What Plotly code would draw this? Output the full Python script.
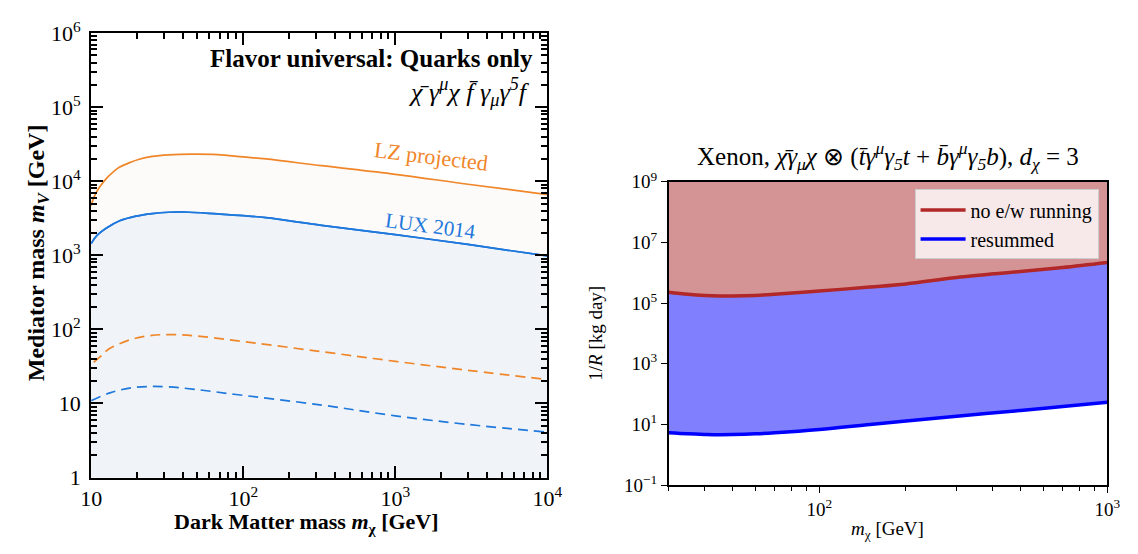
import plotly.graph_objects as go

# ---------------- Left panel data ----------------
mx_left = [10, 10.4, 10.9, 11.5, 12.7, 14.0, 15.4, 17.9, 20.7, 25.2, 32.4, 45.8, 67.7, 100, 141, 328, 1000, 3000, 10000]
lz_solid = [4700, 5970, 7270, 8600, 11100, 13400, 15500, 17800, 19800, 21600, 22700, 23200, 22900, 21300, 20000, 16200, 12400, 9100, 6600]
mx_lux = [10, 10.9, 12.7, 15.4, 19.7, 25.2, 32.4, 41.4, 67.7, 100, 141, 328, 1000, 3000, 10000]
lux_solid = [1440, 1840, 2350, 2920, 3380, 3660, 3810, 3840, 3620, 3430, 3220, 2540, 1900, 1400, 980]
mx_dash = [10.4, 11.8, 13, 17.9, 24, 32.4, 48, 87, 328, 1000, 3000, 10000]
lz_dash = [36, 45, 54, 72, 82, 85, 82, 71, 50, 37, 28, 21]
mx_dash_b = [10, 13.3, 17.9, 24, 32.4, 48, 87, 328, 1000, 3000, 10000]
lux_dash = [10.9, 13.9, 16.1, 16.9, 16.7, 15.5, 13.3, 9.5, 6.8, 5.2, 4.1]

# ---------------- Right panel data ----------------
mx_right = [30, 35, 40, 45, 50, 60, 70, 100, 150, 200, 300, 500, 700, 1000]
no_ew = [2.3e5, 1.95e5, 1.78e5, 1.72e5, 1.72e5, 1.8e5, 1.95e5, 2.5e5, 3.4e5, 4.3e5, 7.0e5, 1.1e6, 1.5e6, 2.2e6]
resummed = [5.3, 4.9, 4.7, 4.6, 4.65, 4.9, 5.3, 6.8, 10.0, 13.0, 18.6, 29.0, 39.0, 54.0]
right_ymax = 1e9

left_xticks = [10, 100, 1000, 10000]
left_xtext = ["10", "10<sup>2</sup>", "10<sup>3</sup>", "10<sup>4</sup>"]
left_yticks = [1, 10, 100, 1e3, 1e4, 1e5, 1e6]
left_ytext = ["1", "10", "10<sup>2</sup>", "10<sup>3</sup>", "10<sup>4</sup>", "10<sup>5</sup>", "10<sup>6</sup>"]
right_xticks = [100, 1000]
right_xtext = ["10<sup>2</sup>", "10<sup>3</sup>"]
right_yticks = [0.1, 10, 1e3, 1e5, 1e7, 1e9]
right_ytext = ["10<sup>−1</sup>", "10<sup>1</sup>", "10<sup>3</sup>", "10<sup>5</sup>", "10<sup>7</sup>", "10<sup>9</sup>"]

ORANGE = "#F0862A"
BLUE = "#1F78DC"
RED = "#B22727"
PURE_BLUE = "#0000FF"
FONT = "Liberation Serif"

W, H = 1138, 554
def px(x): return x / W
def py(y): return 1 - y / H

fig = go.Figure()

# Left fills
fig.add_trace(go.Scatter(x=mx_lux, y=lux_solid, mode="lines", line=dict(color=BLUE, width=1.7, shape="spline"),
                         fill="tozeroy", fillcolor="#F0F4F8", showlegend=False, xaxis="x", yaxis="y"))
fig.add_trace(go.Scatter(x=mx_left, y=lz_solid, mode="lines", line=dict(color=ORANGE, width=1.7, shape="spline"),
                         fill="tonexty", fillcolor="#FDFBF9", showlegend=False, xaxis="x", yaxis="y"))
fig.add_trace(go.Scatter(x=mx_dash, y=lz_dash, mode="lines", line=dict(color=ORANGE, width=1.7, dash="10px,6px", shape="spline"),
                         showlegend=False, xaxis="x", yaxis="y"))
fig.add_trace(go.Scatter(x=mx_dash_b, y=lux_dash, mode="lines", line=dict(color=BLUE, width=1.7, dash="10px,6px", shape="spline"),
                         showlegend=False, xaxis="x", yaxis="y"))
fig.add_trace(go.Scatter(x=mx_lux, y=lux_solid, mode="lines", line=dict(color=BLUE, width=1.7, shape="spline"),
                         showlegend=False, xaxis="x", yaxis="y"))

# Right fills
fig.add_trace(go.Scatter(x=mx_right, y=resummed, mode="lines", line=dict(width=0, shape="spline"),
                         showlegend=False, xaxis="x2", yaxis="y2"))
fig.add_trace(go.Scatter(x=mx_right, y=no_ew, mode="lines", line=dict(width=0, shape="spline"),
                         fill="tonexty", fillcolor="#8080FF", showlegend=False, xaxis="x2", yaxis="y2"))
fig.add_trace(go.Scatter(x=mx_right, y=[right_ymax] * len(mx_right), mode="lines", line=dict(width=0),
                         fill="tonexty", fillcolor="#D49394", showlegend=False, xaxis="x2", yaxis="y2"))
fig.add_trace(go.Scatter(x=mx_right, y=no_ew, mode="lines", name="no e/w running",
                         line=dict(color=RED, width=3.5, shape="spline"), xaxis="x2", yaxis="y2"))
fig.add_trace(go.Scatter(x=mx_right, y=resummed, mode="lines", name="resummed",
                         line=dict(color=PURE_BLUE, width=3.5, shape="spline"), xaxis="x2", yaxis="y2"))

common = dict(showline=True, linecolor="black", showgrid=False, zeroline=False, type="log", layer="above traces")

fig.update_layout(
    width=W, height=H, margin=dict(l=0, r=0, t=0, b=0),
    paper_bgcolor="white", plot_bgcolor="white",
    font=dict(family=FONT, color="black"),
    xaxis=dict(**common, domain=[px(82), px(549)], range=[1, 4], linewidth=2,
               tickmode="array", tickvals=left_xticks, ticktext=left_xtext,
               ticks="inside", ticklen=12, tickwidth=2, tickcolor="black", mirror="allticks",
               minor=dict(ticks="inside", ticklen=6, tickwidth=1.5, dtick="D1", tickcolor="black"),
               ticklabelstandoff=0,
               tickfont=dict(size=22, family=FONT), anchor="y"),
    yaxis=dict(**common, domain=[py(487), py(18)], range=[0, 6], linewidth=2,
               tickmode="array", tickvals=left_yticks, ticktext=left_ytext,
               ticks="inside", ticklen=12, tickwidth=2, tickcolor="black", mirror="allticks",
               minor=dict(ticks="inside", ticklen=6, tickwidth=1.5, dtick="D1", tickcolor="black"),
               ticklabelstandoff=4,
               tickfont=dict(size=22, family=FONT), anchor="x"),
    xaxis2=dict(**common, domain=[px(673), px(1122)], range=[1.4771, 3], linewidth=1.5, mirror=True,
                tickmode="array", tickvals=right_xticks, ticktext=right_xtext,
                ticks="outside", ticklen=6, tickwidth=1.2, tickcolor="black",
                minor=dict(ticks="outside", ticklen=4, tickwidth=1, dtick="D1", tickcolor="black"),
                tickfont=dict(size=19, family=FONT), anchor="y2"),
    yaxis2=dict(**common, domain=[py(495), py(175)], range=[-1, 9], linewidth=1.5, mirror=True,
                tickmode="array", tickvals=right_yticks, ticktext=right_ytext,
                ticks="outside", ticklen=6, tickwidth=1.2, tickcolor="black",
                tickfont=dict(size=19, family=FONT), anchor="x2"),
    legend=dict(x=px(1113), y=py(183), xanchor="right", yanchor="top", traceorder="normal",
                bgcolor="rgba(255,255,255,0.8)", bordercolor="#CCCCCC", borderwidth=1,
                font=dict(size=20, family=FONT), itemwidth=45),
)

ann = [
    dict(x=px(302), y=py(535), text="<b>Dark Matter mass <i>m</i><sub>χ</sub> [GeV]</b>", size=22),
    dict(x=px(28), y=py(250), text="<b>Mediator mass <i>m<sub>V</sub></i> [GeV]</b>", size=24, textangle=-90),
    dict(x=px(536), y=py(45), text="<b>Flavor universal: Quarks only</b>", size=25, xanchor="right"),
    dict(x=px(533), y=py(80), text="<i>χ̄ γ<sup>μ</sup>χ f̄ γ<sub>μ</sub>γ<sup>5</sup>f</i>", size=26, xanchor="right"),
    dict(x=px(430), y=py(148), text="LZ projected", size=22, color=ORANGE, textangle=7),
    dict(x=px(429), y=py(222), text="LUX 2014", size=21, color=BLUE, textangle=7.5),
    dict(x=px(898), y=py(148),
         text="Xenon, <i>χ̄γ<sub>μ</sub>χ</i> ⊗ (<i>t̄γ<sup>μ</sup>γ<sub>5</sub>t</i> + <i>b̄γ<sup>μ</sup>γ<sub>5</sub>b</i>), <i>d<sub>χ</sub></i> = 3",
         size=25),
    dict(x=px(897), y=py(542), text="<i>m</i><sub>χ</sub> [GeV]", size=19),
    dict(x=px(598), y=py(335), text="1/<i>R</i> [kg day]", size=19, textangle=-90),
]
for a in ann:
    fig.add_annotation(xref="paper", yref="paper", showarrow=False, yanchor="middle",
                       x=a["x"], y=a["y"], text=a["text"], xanchor=a.get("xanchor", "center"),
                       textangle=a.get("textangle", 0),
                       font=dict(family=FONT, color=a.get("color", "black"), size=a["size"]))

fig.write_html("out.html")
